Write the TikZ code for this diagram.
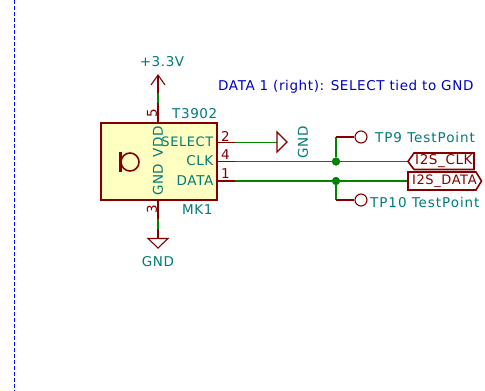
\documentclass[tikz,border=0pt]{standalone}
\usepackage{fontspec}
\setmainfont{DejaVu Sans}
\newfontfamily\kfont[LetterSpace=4.5]{DejaVu Sans}
\newfontfamily\kfontw[LetterSpace=7]{DejaVu Sans}
\usetikzlibrary{calc}
\definecolor{kred}{HTML}{840000}
\definecolor{kgreen}{HTML}{008400}
\definecolor{kteal}{HTML}{007A7A}
\definecolor{kblue}{HTML}{0000C2}
\definecolor{kfill}{HTML}{FFFFC2}
\tikzset{
  x=1pt,y=-1pt,
  txt/.style={inner sep=0pt,font=\kfont\fontsize{13.5}{14}\selectfont},
  txtnarrow/.style={inner sep=0pt,font=\kfont\fontsize{13}{14}\selectfont},
  txtwide/.style={inner sep=0pt,font=\kfontw\fontsize{13.5}{14}\selectfont},
  fieldtxt/.style={txt,text=kteal},
  pinnum/.style={txt,text=kred},
  notetxt/.style={txt,text=kblue},
  pinline/.style={draw=kred,line width=1.3pt},
  wire/.style={draw=kgreen,line width=1.3pt},
  symline/.style={draw=kred,line width=1.1pt},
  body/.style={draw=kred,fill=kfill,line width=1.9pt,inner sep=0pt,minimum width=116pt,minimum height=77pt},
  junc/.style={circle,fill=kgreen,inner sep=0pt,minimum size=8pt},
  tp/.style={circle,draw=kred,line width=1.1pt,inner sep=0pt,minimum size=12pt},
  hier/.style={draw=kred,line width=1.6pt,line join=miter},
  sheet/.style={draw=blue,line width=1pt,dash pattern=on 4pt off 2pt}
}
\begin{document}
\begin{tikzpicture}
\useasboundingbox (0,0) rectangle (485,391);
\fill[white] (0,0) rectangle (485,391);
\coordinate (sheetA) at (14,0);
\coordinate (sheetB) at (14,391);
\draw[sheet] (sheetA) -- (sheetB);

\node[body] (mk) at (159,161.5) {};
% microphone symbol
\node[circle,draw=kred,line width=1.6pt,inner sep=0pt,minimum size=18pt] (micc) at (130,162) {};
\coordinate (mica) at (120.5,152);
\coordinate (micb) at (120.5,172);
\draw[kred,line width=2.2pt] (mica) -- (micb);

% power
\coordinate (p5t) at (158,123);
\coordinate (p5e) at (158,103);
\coordinate (p5w) at (158,93);
\coordinate (pwr) at (158,75);
\coordinate (pwl) at (151,85);
\coordinate (pwr2) at (165,85);
\draw[pinline] (p5t) -- (p5e);
\draw[wire] (p5e) -- (p5w);
\draw[symline] (p5w) -- (pwr);
\draw[symline] (pwl) -- (pwr) -- (pwr2);
\node[fieldtxt] (plus) at (162,62) {+3.3V};

% GND down
\coordinate (p3t) at (158,200);
\coordinate (p3e) at (158,219);
\coordinate (p3w) at (158,229);
\coordinate (g1) at (158,238);
\draw[pinline] (p3t) -- (p3e);
\draw[wire] (p3e) -- (p3w);
\draw[symline] (p3w) -- (g1);
\draw[symline] (148,238.5) -- (168,238.5) -- (158,248) -- cycle;
\node[fieldtxt] (gndb) at (158,262) {GND};

% pins
\coordinate (s0) at (217,142.3);
\coordinate (s1) at (235,142.3);
\coordinate (s2) at (277,142.3);
\draw[pinline] (s0) -- (s1);
\draw[wire] (s1) -- (s2);
\draw[symline] (277,132) -- (277,152) -- (287,142) -- cycle;
\node[fieldtxt,rotate=90] (gndr) at (303,142) {GND};

\coordinate (c0) at (217,161.5);
\coordinate (c1) at (235,161.5);
\coordinate (d0) at (217,181);
\coordinate (d1) at (235,181);
\draw[pinline] (c0) -- (c1);
\draw[pinline] (d0) -- (d1);

\node[inner sep=0pt] (clkanchor) at (408,161.5) {};
\node[inner sep=0pt] (dataanchor) at (408,181) {};
\node[junc] (jc) at (336,161.5) {};
\node[junc] (jd) at (336,181) {};
\draw[wire] (c1) -- (clkanchor);
\draw[wire] (d1) -- (dataanchor);
\node[junc] at (jc) {};
\node[junc] at (jd) {};

% test points
\node[tp] (tp9) at (361,137) {};
\node[tp] (tp10) at (361,200) {};
\coordinate (tc9) at (336,137);
\coordinate (tc10) at (336,200);
\draw[wire] (jc) -- (tc9);
\draw[wire] (jd) -- (tc10);
\draw[pinline] (tc9) -- (tp9);
\draw[pinline] (tc10) -- (tp10);
\node[txtwide,text=kteal,anchor=west] (t9) at (375,137) {TP9 TestPoint};
\node[txtwide,text=kteal,anchor=west] (t10) at (370,202) {TP10 TestPoint};

% hierarchical labels
\draw[hier] (408,161.5) -- (414,153) -- (474,153) -- (474,169.5) -- (414,169.5) -- cycle;
\draw[hier] (408,172) -- (476,172) -- (481.5,181) -- (476,190) -- (408,190) -- cycle;
\node[txt,text=kred,anchor=west] (lclk) at (415,161.5) {I2S\_CLK};
\node[txtnarrow,text=kred,anchor=west] (ldata) at (412,181) {I2S\_DATA};

% texts
\node[pinnum,anchor=west] (n2) at (221,136) {2};
\node[pinnum,anchor=west] (n4) at (221,155) {4};
\node[pinnum,anchor=west] (n1) at (221,174) {1};
\node[pinnum,rotate=90] (n5) at (152,113) {5};
\node[pinnum,rotate=90] (n3) at (152,209) {3};
\node[txtnarrow,text=kteal,anchor=east] (sel) at (213.5,142) {SELECT};
\node[fieldtxt,anchor=east] (clk) at (213.5,161) {CLK};
\node[fieldtxt,anchor=east] (dat) at (213.5,181) {DATA};
\node[fieldtxt,rotate=90,anchor=east] (vdd) at (158,126) {VDD};
\node[fieldtxt,rotate=90,anchor=west] (gnd) at (158,196) {GND};
\node[fieldtxt,anchor=west] (ref) at (172,114) {T3902};
\node[fieldtxt,anchor=west] (val) at (182,210) {MK1};
\node[notetxt,anchor=west] (note) at (218,87) {DATA 1 (right): SELECT tied to GND};
\end{tikzpicture}
\end{document}
